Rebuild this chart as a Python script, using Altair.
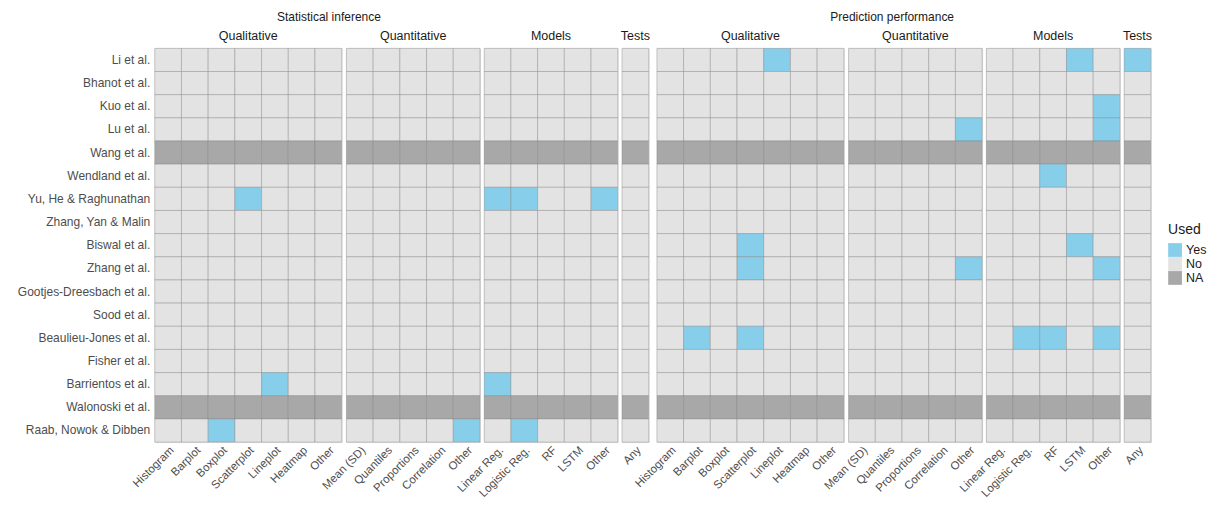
import altair as alt
import pandas as pd

papers = ["Li et al.", "Bhanot et al.", "Kuo et al.", "Lu et al.", "Wang et al.",
          "Wendland et al.", "Yu, He & Raghunathan", "Zhang, Yan & Malin",
          "Biswal et al.", "Zhang et al.", "Gootjes-Dreesbach et al.", "Sood et al.",
          "Beaulieu-Jones et al.", "Fisher et al.", "Barrientos et al.",
          "Walonoski et al.", "Raab, Nowok & Dibben"]
na_papers = ["Wang et al.", "Walonoski et al."]

subgroups = ["Qualitative", "Quantitative", "Models", "Tests"]
qualitative = ["Histogram", "Barplot", "Boxplot", "Scatterplot", "Lineplot", "Heatmap", "Other"]
quantitative = ["Mean (SD)", "Quantiles", "Proportions", "Correlation", "Other"]
models = ["Linear Reg.", "Logistic Reg.", "RF", "LSTM", "Other"]
tests = ["Any"]
items = {"Qualitative": qualitative, "Quantitative": quantitative, "Models": models, "Tests": tests}

stat_yes = [
    ("Yu, He & Raghunathan", "Qualitative", "Scatterplot"),
    ("Yu, He & Raghunathan", "Models", "Linear Reg."),
    ("Yu, He & Raghunathan", "Models", "Logistic Reg."),
    ("Yu, He & Raghunathan", "Models", "Other"),
    ("Barrientos et al.", "Qualitative", "Lineplot"),
    ("Barrientos et al.", "Models", "Linear Reg."),
    ("Raab, Nowok & Dibben", "Qualitative", "Boxplot"),
    ("Raab, Nowok & Dibben", "Quantitative", "Other"),
    ("Raab, Nowok & Dibben", "Models", "Logistic Reg."),
]
pred_yes = [
    ("Li et al.", "Qualitative", "Lineplot"),
    ("Li et al.", "Models", "LSTM"),
    ("Li et al.", "Tests", "Any"),
    ("Kuo et al.", "Models", "Other"),
    ("Lu et al.", "Quantitative", "Other"),
    ("Lu et al.", "Models", "Other"),
    ("Wendland et al.", "Models", "RF"),
    ("Biswal et al.", "Qualitative", "Scatterplot"),
    ("Biswal et al.", "Models", "LSTM"),
    ("Zhang et al.", "Qualitative", "Scatterplot"),
    ("Zhang et al.", "Quantitative", "Other"),
    ("Zhang et al.", "Models", "Other"),
    ("Beaulieu-Jones et al.", "Qualitative", "Barplot"),
    ("Beaulieu-Jones et al.", "Qualitative", "Scatterplot"),
    ("Beaulieu-Jones et al.", "Models", "Logistic Reg."),
    ("Beaulieu-Jones et al.", "Models", "RF"),
    ("Beaulieu-Jones et al.", "Models", "Other"),
]

used_levels = ["Yes", "No", "NA"]
used_colors = ["#87CEEB", "#E3E3E3", "#A8A8A8"]


def build(yes_list):
    yes = set(yes_list)
    rows = []
    for p in papers:
        for s in subgroups:
            for i, it in enumerate(items[s]):
                if p in na_papers:
                    v = "NA"
                elif (p, s, it) in yes:
                    v = "Yes"
                else:
                    v = "No"
                rows.append({"paper": p, "sub": s, "item": it, "ord": i, "used": v})
    return pd.DataFrame(rows)


FONT = "Liberation Sans"


def panel(df, title, show_y):
    yaxis = alt.Axis(title=None, labelFontSize=12, labelColor="#4D4D4D", ticks=False,
                     domain=False, labelPadding=5, labelFont=FONT,
                     minExtent=147, maxExtent=147) if show_y else None
    base = alt.Chart(df).mark_rect(stroke="#7f7f7f", strokeWidth=0.7, strokeOpacity=0.55).encode(
        x=alt.X("item:N", sort=alt.EncodingSortField("ord", op="min"),
                axis=alt.Axis(title=None, labelAngle=-45, labelFontSize=11.5, labelColor="#4D4D4D",
                              ticks=False, domain=False, labelPadding=2, labelFont=FONT)),
        y=alt.Y("paper:N", sort=papers, axis=yaxis),
        color=alt.Color("used:N", scale=alt.Scale(domain=used_levels, range=used_colors),
                        legend=alt.Legend(title="Used", orient="none", legendX=1015, legendY=175,
                                          symbolType="square", symbolSize=190,
                                          symbolStrokeWidth=0, rowPadding=0,
                                          titleFontSize=14, titleFontWeight="normal",
                                          labelFontSize=12.5, titleFont=FONT, labelFont=FONT,
                                          titleColor="#1a1a1a", labelColor="#1a1a1a",
                                          titlePadding=6)),
    ).properties(width=alt.Step(26.75), height=alt.Step(23.2))
    return base.facet(
        column=alt.Column("sub:N", sort=subgroups,
                          header=alt.Header(title=None, labelFontSize=12.5, labelColor="#1a1a1a",
                                            labelFont=FONT, labelPadding=6)),
        spacing=4,
        bounds="flush",
    ).resolve_scale(x="independent").properties(
        title=alt.TitleParams(title, fontSize=12, fontWeight="normal", color="#1a1a1a",
                              font=FONT, anchor="middle", offset=6)
    )


stat_df = build(stat_yes)
pred_df = build(pred_yes)

chart = alt.hconcat(panel(stat_df, "Statistical inference", True),
                    panel(pred_df, "Prediction performance", False),
                    spacing=-18).configure_view(stroke=None).configure(background="white").properties(
    padding={"top": 2, "left": 0, "right": 0, "bottom": 0})

chart.save("out.html", embed_options={"renderer": "svg", "actions": False})
